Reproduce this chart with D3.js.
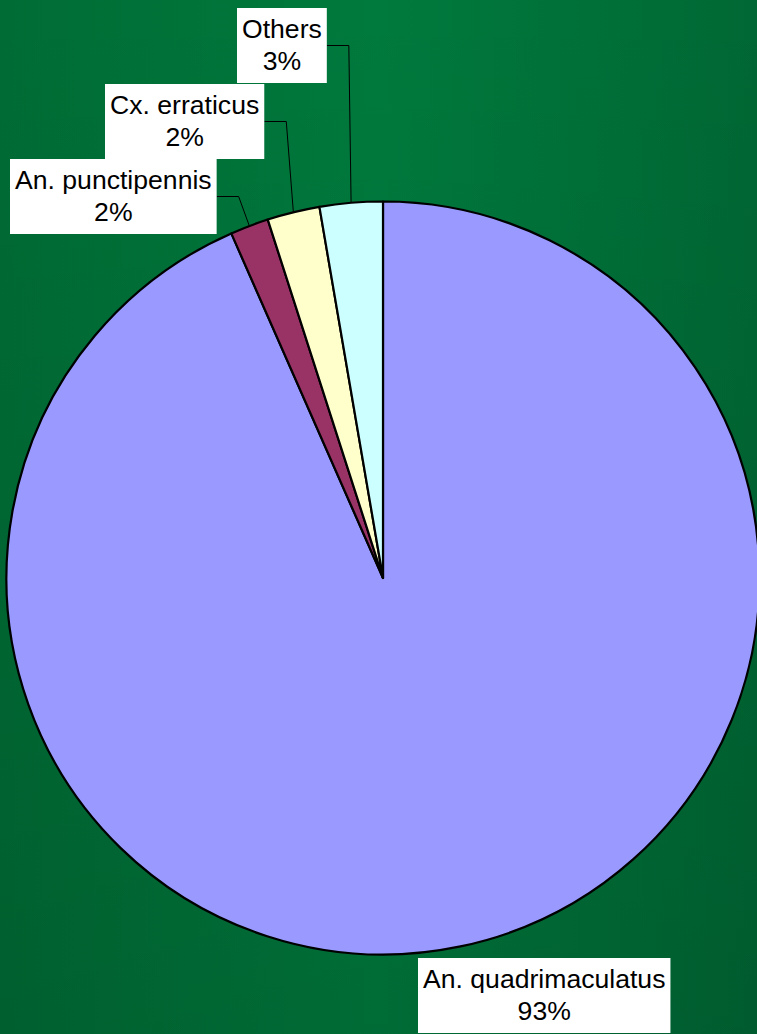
<!DOCTYPE html>
<html>
<head>
<meta charset="utf-8">
<script src="https://cdn.jsdelivr.net/npm/d3@7"></script>
<style>
  html, body { margin: 0; padding: 0; background: #006f36; }
  svg { display: block; }
  text { font-family: "Liberation Sans", Arial, Helvetica, sans-serif; }
</style>
</head>
<body>
<svg id="chart" width="757" height="1034"></svg>
<script>
// Mosquito species share of collected specimens (percent)
const species = ["An. quadrimaculatus", "An. punctipennis", "Cx. erraticus", "Others"];
const shares = [93.4, 1.65, 2.25, 2.7];
const sliceColors = ["#9999ff", "#993366", "#ffffcc", "#ccffff"];

// Top-left corner of each label box
const labelBoxes = [[418, 958], [10, 159], [105, 84], [237, 8]];

const W = 757, H = 1034;
const cx = 383, cy = 578, R = 376.5;
const fontSize = 26.6, padX = 5, boxH = 75;

const svg = d3.select("#chart");

// Background: green with a lighter band around the middle, darkening toward the bottom
const defs = svg.append("defs");
const hg = defs.append("linearGradient").attr("id", "bgH")
  .attr("x1", 0).attr("x2", 1).attr("y1", 0).attr("y2", 0);
hg.append("stop").attr("offset", "0%").attr("stop-color", "#006c35");
hg.append("stop").attr("offset", "50%").attr("stop-color", "#007a3d");
hg.append("stop").attr("offset", "100%").attr("stop-color", "#006834");
const vg = defs.append("linearGradient").attr("id", "bgV")
  .attr("x1", 0).attr("x2", 0).attr("y1", 0).attr("y2", 1);
vg.append("stop").attr("offset", "0%").attr("stop-color", "#000").attr("stop-opacity", 0);
vg.append("stop").attr("offset", "100%").attr("stop-color", "#000").attr("stop-opacity", 0.12);
svg.append("rect").attr("width", W).attr("height", H).attr("fill", "url(#bgH)");
svg.append("rect").attr("width", W).attr("height", H).attr("fill", "url(#bgV)");

const data = species.map((name, i) => ({ name, value: shares[i], color: sliceColors[i], box: labelBoxes[i] }));
const total = d3.sum(shares);

const pie = d3.pie().sort(null).value(d => d.value);
const arcs = pie(data);
const arc = d3.arc().innerRadius(0).outerRadius(R);
const edge = d3.arc().innerRadius(R).outerRadius(R);

const g = svg.append("g").attr("transform", `translate(${cx},${cy})`);
g.selectAll("path.slice").data(arcs).join("path")
  .attr("class", "slice")
  .attr("d", arc)
  .attr("fill", d => d.data.color)
  .attr("stroke", "#000")
  .attr("stroke-width", 2.2)
  .attr("stroke-linejoin", "round");

// Labels: white boxes with name and rounded percentage
const fmt = v => Math.round(v / total * 100) + "%";
const measure = svg.append("text").attr("font-size", fontSize).attr("visibility", "hidden");

arcs.forEach((a, i) => {
  const d = a.data;
  measure.text(d.name);
  const tw = measure.node().getComputedTextLength();
  const bw = tw + padX * 2;
  const [bx, by] = d.box;

  // Leader line for the small slices
  if (i > 0) {
    const [ex, ey] = edge.centroid(a);
    const elbowX = bx + bw + 22, midY = by + boxH / 2;
    svg.append("polyline")
      .attr("points", [[bx + bw, midY], [elbowX, midY], [cx + ex, cy + ey]].map(p => p.join(",")).join(" "))
      .attr("fill", "none").attr("stroke", "#000").attr("stroke-width", 1);
  }

  svg.append("rect").attr("x", bx).attr("y", by).attr("width", bw).attr("height", boxH).attr("fill", "#fff");
  const t = svg.append("text").attr("font-size", fontSize).attr("fill", "#000").attr("text-anchor", "middle");
  t.append("tspan").attr("x", bx + bw / 2).attr("y", by + 30).text(d.name);
  t.append("tspan").attr("x", bx + bw / 2).attr("y", by + 62).text(fmt(d.value));
});
measure.remove();
</script>
</body>
</html>
